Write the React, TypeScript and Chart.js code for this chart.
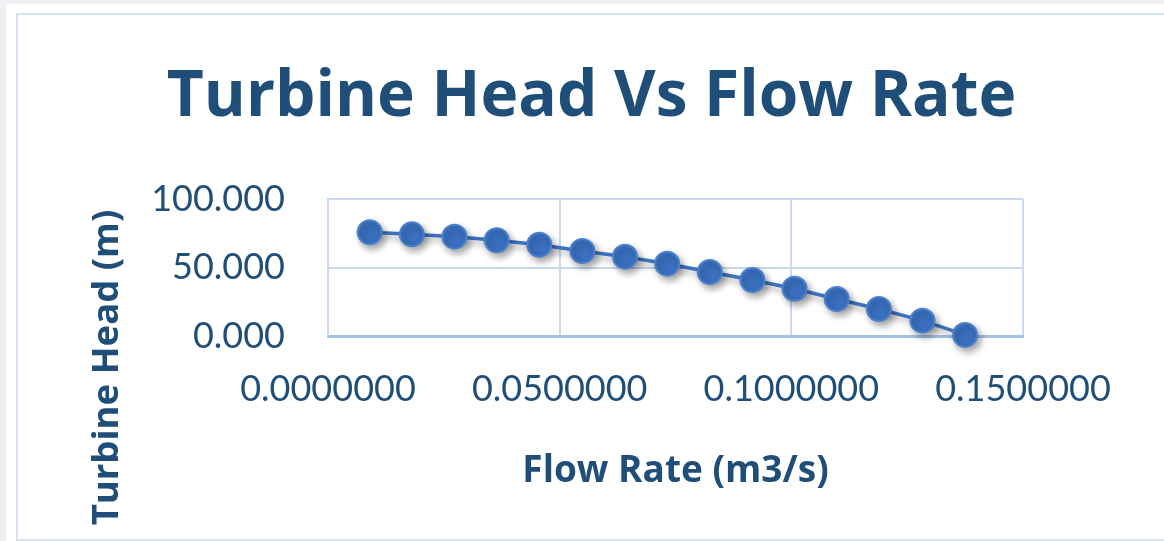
import React, { useEffect, useRef } from "react";
import { Chart, registerables } from "chart.js";

Chart.register(...registerables);

const CHART_TITLE = "Turbine Head Vs Flow Rate";
const X_TITLE = "Flow Rate (m3/s)";
const Y_TITLE = "Turbine Head (m)";

// Flow rate (m3/s)
const flowRate = [
  0.009, 0.0181, 0.0273, 0.0364, 0.0456, 0.0549, 0.0641, 0.0732, 0.0824,
  0.0916, 0.1007, 0.1098, 0.1189, 0.1283, 0.1375,
];
// Turbine head (m)
const turbineHead = [
  75.7, 74.2, 72.5, 69.9, 66.6, 62.0, 57.9, 52.8, 46.7, 40.9, 34.5, 27.0, 19.7,
  11.2, 0.8,
];

const X_MIN = 0;
const X_MAX = 0.15;
const X_STEP = 0.05;
const X_DECIMALS = 7;
const Y_MIN = 0;
const Y_MAX = 100;
const Y_STEP = 50;
const Y_DECIMALS = 3;

const TEXT_COLOR = "#1f4e79";
const GRID_COLOR = "#c9daf0";
const AXIS_COLOR = "#a3c2e8";
const SERIES_COLOR = "#3d72bf";
const TICK_FONT = "Lato, 'Open Sans', sans-serif";
const TITLE_FONT = "'Open Sans', Lato, sans-serif";

const shadowPlugin = {
  id: "markerShadow",
  beforeDatasetsDraw(chart: any) {
    const c = chart.ctx;
    c.save();
    c.shadowColor = "rgba(0,0,0,0.35)";
    c.shadowBlur = 7;
    c.shadowOffsetX = 3;
    c.shadowOffsetY = 4;
  },
  afterDatasetsDraw(chart: any) {
    chart.ctx.restore();
  },
};

const yTitlePlugin = {
  id: "yTitle",
  afterDraw(chart: any) {
    const c = chart.ctx;
    c.save();
    c.translate(108, 367.5);
    c.rotate(-Math.PI / 2);
    c.font = `bold 36.5px ${TITLE_FONT}`;
    c.fillStyle = TEXT_COLOR;
    c.textAlign = "center";
    c.textBaseline = "middle";
    c.fillText(Y_TITLE, 0, 0);
    c.restore();
  },
};

export default function App() {
  const ref = useRef<HTMLCanvasElement | null>(null);

  useEffect(() => {
    document.body.style.margin = "0";
    document.body.style.overflow = "hidden";
    if (!ref.current) return;
    const points = flowRate.map((x, i) => ({ x, y: turbineHead[i] }));
    const chart = new Chart(ref.current, {
      type: "scatter",
      data: {
        datasets: [
          {
            data: points,
            showLine: true,
            borderColor: SERIES_COLOR,
            borderWidth: 3.5,
            pointRadius: 12,
            pointBorderWidth: 2,
            pointBackgroundColor: "#3a70bf",
            pointBorderColor: "#4a80cc",
            clip: false as any,
          } as any,
        ],
      },
      options: {
        responsive: false,
        animation: false,
        layout: { padding: { left: 19, right: 0, top: 0, bottom: 0 } },
        plugins: {
          legend: { display: false },
          tooltip: { enabled: false },
          title: {
            display: true,
            text: CHART_TITLE,
            color: TEXT_COLOR,
            font: { family: TITLE_FONT, size: 64, weight: "bold", lineHeight: 1.2 },
            padding: { top: 59, bottom: 63.2 },
          },
        },
        scales: {
          x: {
            type: "linear",
            position: "bottom",
            min: X_MIN,
            max: X_MAX,
            ticks: {
              stepSize: X_STEP,
              color: TEXT_COLOR,
              font: { family: TICK_FONT, size: 36, lineHeight: 1.2 },
              padding: 32,
              maxRotation: 0,
              callback: (v: any) => Number(v).toFixed(X_DECIMALS),
            },
            grid: { color: GRID_COLOR, lineWidth: 2, drawTicks: false },
            border: { color: AXIS_COLOR, width: 3 },
            title: {
              display: true,
              text: X_TITLE,
              color: TEXT_COLOR,
              font: { family: TITLE_FONT, size: 37, weight: "bold", lineHeight: 1.2 },
              padding: { top: 0, bottom: 47.8 },
            },
            afterFit: (s: any) => {
              s.height = 205;
            },
          },
          y: {
            type: "linear",
            position: "left",
            min: Y_MIN,
            max: Y_MAX,
            ticks: {
              stepSize: Y_STEP,
              color: TEXT_COLOR,
              font: { family: TICK_FONT, size: 36, lineHeight: 1.2 },
              padding: 43,
              callback: (v: any) => Number(v).toFixed(Y_DECIMALS),
            },
            grid: { color: GRID_COLOR, lineWidth: 2, drawTicks: false },
            border: { color: GRID_COLOR, width: 2 },
            afterFit: (s: any) => {
              s.width = 309;
            },
          },
          yRight: {
            type: "linear",
            position: "right",
            min: 0,
            max: 1,
            display: true,
            ticks: { display: false },
            grid: { display: false, drawOnChartArea: false },
            border: { display: false },
            afterFit: (s: any) => {
              s.width = 141;
            },
          },
        },
      } as any,
      plugins: [shadowPlugin, yTitlePlugin],
    });
    return () => chart.destroy();
  }, []);

  return (
    <div
      style={{
        position: "absolute",
        left: 0,
        top: 0,
        width: 1164,
        height: 541,
        background: "#eef0f3",
        overflow: "hidden",
      }}
    >
      <div
        style={{
          position: "absolute",
          left: 6,
          top: 4,
          width: 1158,
          height: 537,
          background: "#ffffff",
        }}
      />
      <div
        style={{
          position: "absolute",
          left: 16,
          top: 13,
          width: 1200,
          height: 524,
          border: "2px solid #d3e1f3",
        }}
      />
      <canvas
        ref={ref}
        width={1164}
        height={541}
        style={{ position: "absolute", left: 0, top: 0, width: 1164, height: 541 }}
      />
    </div>
  );
}
